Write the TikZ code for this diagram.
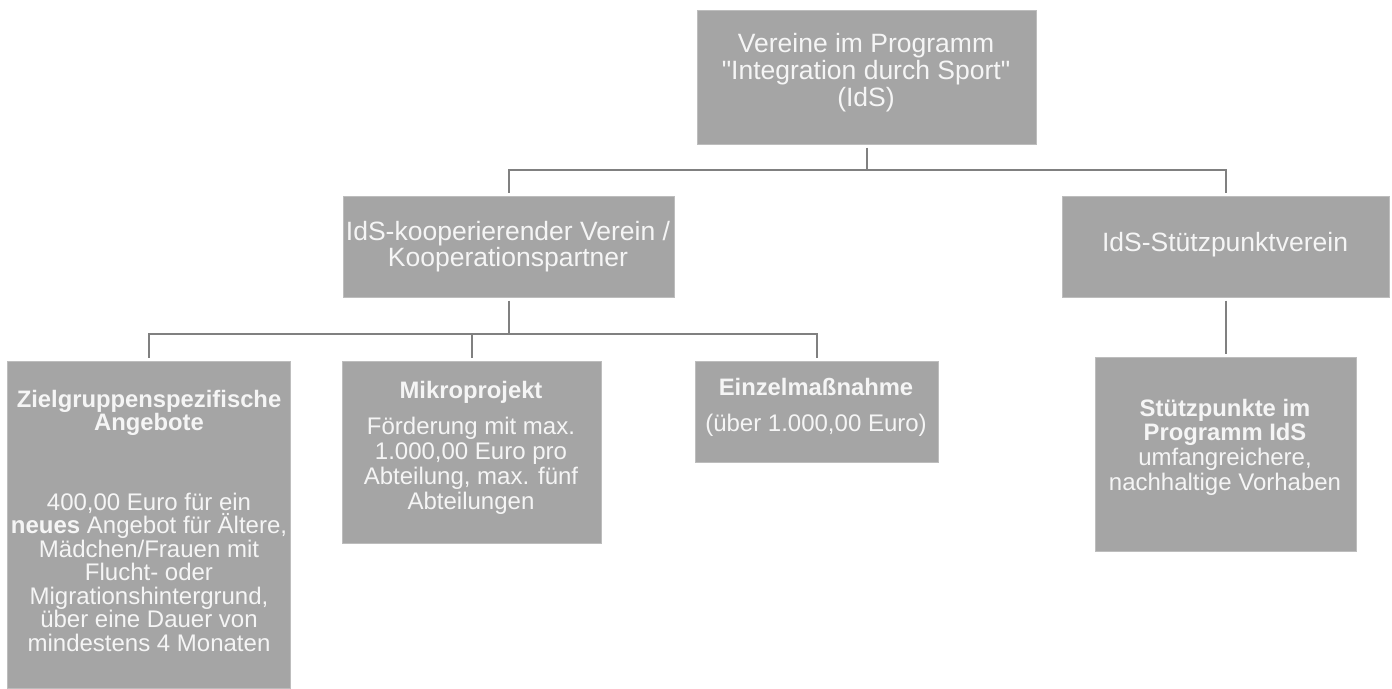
\documentclass[tikz,border=0pt]{standalone}
\usepackage{fontspec}
\setmainfont{Liberation Sans}[Ligatures=TeXOff]
\definecolor{boxgray}{HTML}{A5A5A5}
\definecolor{boxedge}{HTML}{BDBDBD}
\definecolor{linegray}{HTML}{808080}
\definecolor{txt}{HTML}{F5F5F5}
\begin{document}
\begin{tikzpicture}[x=1pt,y=-1pt,
  box/.style={fill=boxgray, draw=boxedge, line width=0.6pt, inner sep=0pt, anchor=north west},
  big/.style={text=txt, inner sep=0pt, anchor=base, align=center, font=\fontsize{26.5}{27}\selectfont},
  head/.style={text=txt, inner sep=0pt, anchor=base, align=center, font=\fontsize{23.8}{23}\selectfont\bfseries},
  body/.style={text=txt, inner sep=0pt, anchor=base, align=center, font=\fontsize{24}{24}\selectfont},
  conn/.style={draw=linegray, line width=2pt, shorten <=3pt, shorten >=3pt}]
\useasboundingbox (0,0) rectangle (1392,688);

% boxes
\node[box, minimum width=339pt, minimum height=134pt] (top) at (697,10) {};
\node[box, minimum width=331pt, minimum height=101pt] (koop) at (343,196) {};
\node[box, minimum width=327pt, minimum height=101pt] (stuetz) at (1062,196) {};
\node[box, minimum width=283pt, minimum height=327pt] (ziel) at (7,361) {};
\node[box, minimum width=259pt, minimum height=182pt] (mikro) at (342,361) {};
\node[box, minimum width=243pt, minimum height=101pt] (einzel) at (695,361) {};
\node[box, minimum width=261pt, minimum height=194pt] (sp) at (1095,357) {};

% texts (anchor base = baseline of the last line)
\node[big] (ttop) at (866,106) {Vereine im Programm\\"Integration durch Sport"\\(IdS)};
\node[big, font=\fontsize{26.5}{26}\selectfont] (tkoop) at (508,266) {IdS-kooperierender Verein /\\Kooperationspartner};
\node[big] (tstuetz) at (1225,251) {IdS-Stützpunktverein};
\node[head] (hziel) at (149,430) {Zielgruppenspezifische\\Angebote};
\node[body, font=\fontsize{24}{23.5}\selectfont] (bziel) at (149,651) {400,00 Euro für ein\\\textbf{neues} Angebot für Ältere,\\Mädchen/Frauen mit\\Flucht- oder\\Migrationshintergrund,\\über eine Dauer von\\mindestens 4 Monaten};
\node[head] (hmikro) at (471,398) {Mikroprojekt};
\node[body, font=\fontsize{24}{25}\selectfont] (bmikro) at (471,509) {Förderung mit max.\\1.000,00 Euro pro\\Abteilung, max. fünf\\Abteilungen};
\node[head] (heinzel) at (816,395) {Einzelmaßnahme};
\node[body] (beinzel) at (816,431) {(über 1.000,00 Euro)};
\node[head, font=\fontsize{23.8}{22}\selectfont\bfseries] (hsp) at (1225,440) {Stützpunkte im\\Programm IdS};
\node[body, font=\fontsize{24}{25}\selectfont] (bsp) at (1225,490) {umfangreichere,\\nachhaltige Vorhaben};

% connectors
\coordinate (j1) at (top.south |- 0,170);
\coordinate (j2) at (koop.south |- 0,334);
\draw[conn, shorten >=0pt] (top.south) -- (j1);
\draw[conn, shorten <=0pt] (j1) -| (koop.north);
\draw[conn, shorten <=0pt] (j1) -| (stuetz.north);
\draw[conn, shorten >=0pt] (koop.south) -- (j2);
\draw[conn, shorten <=0pt] (j2) -| (ziel.north);
\draw[conn, shorten <=0pt] (j2) -| (mikro.north);
\draw[conn, shorten <=0pt] (j2) -| (einzel.north);
\draw[conn] (stuetz.south) -- (sp.north);
\end{tikzpicture}
\end{document}
